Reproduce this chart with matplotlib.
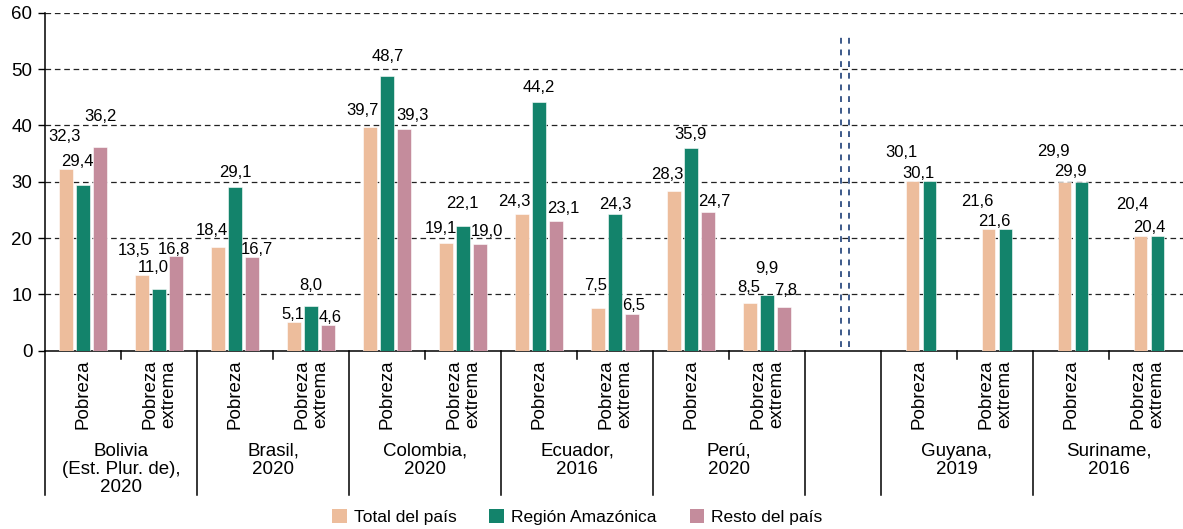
import matplotlib
matplotlib.use("Agg")
import matplotlib.pyplot as plt
import matplotlib.transforms as mtransforms
from matplotlib.patches import Patch

# datos (porcentajes)
paises = ["Bolivia\n(Est. Plur. de),\n2020", "Brasil,\n2020", "Colombia,\n2020",
          "Ecuador,\n2016", "Perú,\n2020", "Guyana,\n2019", "Suriname,\n2016"]
tipos = ["Pobreza", "Pobreza\nextrema"]
series = ["Total del país", "Región Amazónica", "Resto del país"]

total_pais = [32.3, 13.5, 18.4, 5.1, 39.7, 19.1, 24.3, 7.5, 28.3, 8.5,
              30.1, 21.6, 29.9, 20.4]
region_amazonica = [29.4, 11.0, 29.1, 8.0, 48.7, 22.1, 44.2, 24.3, 35.9, 9.9,
                    30.1, 21.6, 29.9, 20.4]
resto_pais = [36.2, 16.8, 16.7, 4.6, 39.3, 19.0, 23.1, 6.5, 24.7, 7.8]

# estilo
colores = ["#EDBD9C", "#13836B", "#C48C9C"]
# desplazamiento de etiquetas en pixeles (dx, dy) respecto al tope de la barra
off_total = [(-1.5, 34), (-8, 25), (-6, 18), (-1, 9), (-7, 18), (-5, 16), (-7.5, 14),
             (-2, 24), (-6.5, 18), (-1, 17), (-11.5, 30), (-11.5, 29), (-10.7, 31.6), (-8.5, 33)]
off_amaz = [(-5.5, 25), (-5.5, 23), (0, 16), (0, 21), (1, 21), (-1, 24), (0, 16),
            (0, 11), (-0.5, 15), (0, 28), (-11.5, 9), (-11.5, 9), (-11, 11.6), (-8, 10)]
off_resto = [(0, 32), (-2, 8), (5, 8), (2, 9), (8.5, 15), (7, 13), (7, 13),
             (2, 10), (6.5, 11), (2, 18)]


def etiqueta(v):
    return ("%.1f" % v).replace(".", ",")


def main():
    plt.rcParams['font.family'] = ['Liberation Sans', 'DejaVu Sans']

    fig = plt.figure(figsize=(11.83, 5.29), dpi=100)
    W, H = 1183, 529
    ax = fig.add_axes([45 / W, 178.3 / H, (W - 45) / W, 338 / H])

    # posiciones de las casillas: 5 paises con 3 barras, hueco, 2 paises con 2 barras
    slots = list(range(10)) + list(range(11, 15))
    ancho = 0.175
    sep = 0.224

    for i, s in enumerate(slots):
        cx = s + 0.5
        if i < 10:
            xs = [cx - sep, cx, cx + sep]
            vals = [total_pais[i], region_amazonica[i], resto_pais[i]]
            offs = [off_total[i], off_amaz[i], off_resto[i]]
        else:
            xs = [cx - 0.085, cx + 0.14]
            vals = [total_pais[i], region_amazonica[i]]
            offs = [off_total[i], off_amaz[i]]
        for k in range(len(xs)):
            ax.bar(xs[k], vals[k], width=ancho, color=colores[k],
                   edgecolor="white", linewidth=0.4, zorder=3)
            ax.annotate(etiqueta(vals[k]), xy=(xs[k], vals[k]),
                        xytext=(offs[k][0], offs[k][1] - 5.8), textcoords="offset pixels",
                        ha="center", va="baseline", fontsize=12, zorder=4)

    ax.set_xlim(0, 1138 / 76)
    ax.set_ylim(0, 60)
    ax.set_yticks(range(0, 61, 10))
    ax.tick_params(axis="y", direction="out", length=5, width=1, labelsize=13.5, pad=4)
    ax.set_xticks([])
    for yv in range(10, 61, 10):
        ax.axhline(yv, color="#222222", linewidth=0.9, linestyle=(0, (4.5, 3)), zorder=1)

    ax.spines["top"].set_visible(False)
    ax.spines["right"].set_visible(False)
    ax.spines["left"].set_linewidth(1.1)
    ax.spines["bottom"].set_linewidth(1.1)

    # doble linea de separacion
    for xv in [10.47, 10.58]:
        ax.plot([xv, xv], [0.6, 56.6], color="#3D5A8A", linewidth=1.4,
                linestyle=(0, (3, 3)), zorder=2)

    # eje categorico de abajo
    trans = mtransforms.blended_transform_factory(ax.transData, ax.transAxes)
    largos = [0, 2, 4, 6, 8, 10, 11, 13]
    cortos = [1, 3, 5, 7, 9, 12, 14]
    for xv in largos:
        ax.plot([xv, xv], [0, -0.427], color="black", linewidth=1.1,
                transform=trans, clip_on=False)
    for xv in cortos:
        ax.plot([xv, xv], [0, -0.025], color="black", linewidth=1.1,
                transform=trans, clip_on=False)

    for i, s in enumerate(slots):
        ax.text(s + 0.5, -0.026, tipos[i % 2], transform=trans, rotation=90,
                ha="center", va="top", fontsize=13.5, linespacing=1.12)

    centros = [1, 3, 5, 7, 9, 12, 14]
    for j, p in enumerate(paises):
        ax.text(centros[j], -0.272, p, transform=trans, ha="center", va="top",
                fontsize=13.5, linespacing=1.1)

    manejadores = [Patch(facecolor=colores[k], edgecolor="none") for k in range(3)]
    fig.legend(manejadores, series, loc="center", bbox_to_anchor=(0.488, 0.023),
               ncol=3, frameon=False, fontsize=12.5, handlelength=0.85,
               handleheight=0.85, handletextpad=0.4, columnspacing=1.9)

    fig.savefig("out.png", dpi=100)


if __name__ == '__main__':
    main()
